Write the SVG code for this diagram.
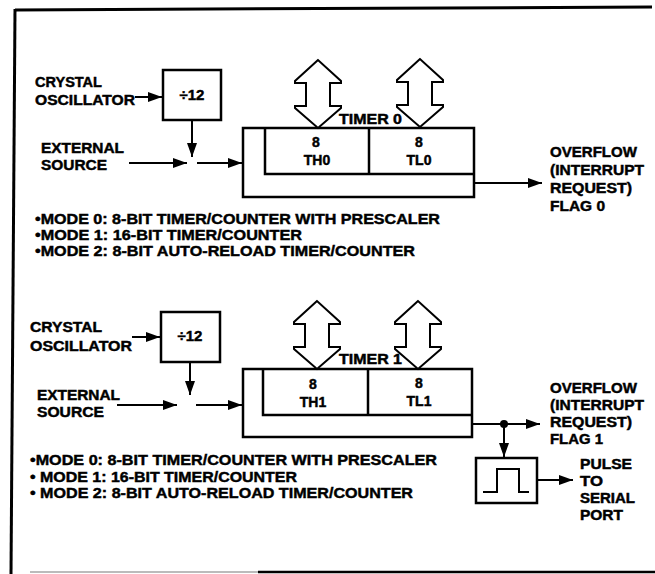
<svg xmlns="http://www.w3.org/2000/svg" width="655" height="574" viewBox="0 0 655 574">
<style>
text{font-family:"Liberation Sans",Arial,sans-serif;font-weight:bold;font-size:14px;fill:#000;stroke:#000;stroke-width:0.45}
.m{font-size:15px}
.c{text-anchor:middle}
.box{fill:none;stroke:#000;stroke-width:2.5}
.ln{fill:none;stroke:#000;stroke-width:2}
.dbl{fill:#fff;stroke:#000;stroke-width:2;stroke-linejoin:miter}
</style>
<defs>
<marker id="ah" markerUnits="userSpaceOnUse" markerWidth="15" markerHeight="11" refX="14" refY="5" orient="auto">
<path d="M0,0 L14,5 L0,10 z" fill="#000"/>
</marker>
<path id="dbl" class="dbl" d="M0,0 L-23,21 L-23,23 L-12,23 L-12,46 L-23,46 L-23,48 L0,68 L23,48 L23,46 L12,46 L12,23 L23,23 L23,21 Z"/>
</defs>
<g id="frame">
<line x1="15" y1="10" x2="652" y2="7" stroke="#000" stroke-width="3"/>
<line x1="15" y1="9" x2="11" y2="574" stroke="#000" stroke-width="3"/>
<line x1="30" y1="572" x2="258" y2="572" stroke="#bbb" stroke-width="2"/>
<line x1="258" y1="572" x2="655" y2="572" stroke="#000" stroke-width="2.5"/>
</g>
<g id="top-labels">
<text x="35" y="87" textLength="67" lengthAdjust="spacingAndGlyphs">CRYSTAL</text>
<text x="35" y="105" textLength="100" lengthAdjust="spacingAndGlyphs">OSCILLATOR</text>
<text x="41" y="153" textLength="83" lengthAdjust="spacingAndGlyphs">EXTERNAL</text>
<text x="41" y="170" textLength="66" lengthAdjust="spacingAndGlyphs">SOURCE</text>
</g>
<g id="div12-0">
<rect class="box" x="163" y="70" width="58" height="50"/>
<text class="c" x="192" y="100" style="font-size:15px">÷12</text>
</g>
<g id="timer0">
<path class="box" d="M243,128 H474 V197 H243 Z"/>
<path class="box" d="M265,128 V174 H474"/>
<line class="box" x1="369" y1="128" x2="369" y2="174"/>
<text class="c" x="316" y="147">8</text>
<text class="c" x="317" y="165">TH0</text>
<text class="c" x="419" y="147">8</text>
<text class="c" x="419" y="165">TL0</text>
<use href="#dbl" x="318" y="60"/>
<use href="#dbl" x="420" y="59"/>
<text x="339" y="124" textLength="63" lengthAdjust="spacingAndGlyphs">TIMER 0</text>
</g>
<g id="overflow0">
<text x="550" y="157" textLength="87" lengthAdjust="spacingAndGlyphs">OVERFLOW</text>
<text x="550" y="175" textLength="94" lengthAdjust="spacingAndGlyphs">(INTERRUPT</text>
<text x="550" y="193" textLength="82" lengthAdjust="spacingAndGlyphs">REQUEST)</text>
<text x="550" y="211" textLength="55" lengthAdjust="spacingAndGlyphs">FLAG 0</text>
</g>
<g id="modes0">
<text class="m" x="35" y="224" textLength="405" lengthAdjust="spacingAndGlyphs">•MODE 0: 8-BIT TIMER/COUNTER WITH PRESCALER</text>
<text class="m" x="35" y="240" textLength="267" lengthAdjust="spacingAndGlyphs">•MODE 1: 16-BIT TIMER/COUNTER</text>
<text class="m" x="35" y="256" textLength="380" lengthAdjust="spacingAndGlyphs">•MODE 2: 8-BIT AUTO-RELOAD TIMER/COUNTER</text>
</g>
<g id="bottom-labels">
<text x="30" y="332" textLength="72" lengthAdjust="spacingAndGlyphs">CRYSTAL</text>
<text x="30" y="351" textLength="102" lengthAdjust="spacingAndGlyphs">OSCILLATOR</text>
<text x="37" y="400" textLength="83" lengthAdjust="spacingAndGlyphs">EXTERNAL</text>
<text x="37" y="417" textLength="67" lengthAdjust="spacingAndGlyphs">SOURCE</text>
</g>
<g id="div12-1">
<rect class="box" x="161" y="312" width="59" height="50"/>
<text class="c" x="190" y="341" style="font-size:15px">÷12</text>
</g>
<g id="timer1">
<path class="box" d="M243,369 H472 V437 H243 Z"/>
<path class="box" d="M263,369 V415 H472"/>
<line class="box" x1="368" y1="369" x2="368" y2="415"/>
<text class="c" x="313" y="389">8</text>
<text class="c" x="313" y="407">TH1</text>
<text class="c" x="419" y="388">8</text>
<text class="c" x="419" y="406">TL1</text>
<use href="#dbl" x="317" y="301"/>
<use href="#dbl" x="418" y="301"/>
<text x="339" y="364" textLength="63" lengthAdjust="spacingAndGlyphs">TIMER 1</text>
</g>
<g id="overflow1">
<text x="550" y="393" textLength="87" lengthAdjust="spacingAndGlyphs">OVERFLOW</text>
<text x="550" y="410" textLength="94" lengthAdjust="spacingAndGlyphs">(INTERRUPT</text>
<text x="550" y="427" textLength="82" lengthAdjust="spacingAndGlyphs">REQUEST)</text>
<text x="550" y="444" textLength="53" lengthAdjust="spacingAndGlyphs">FLAG 1</text>
</g>
<g id="pulse">
<rect class="box" x="476" y="458" width="61" height="45"/>
<path class="ln" d="M483,492 H497 V469 H519 V492 H529"/>
</g>
<g id="pulse-label">
<text x="580" y="469" textLength="52" lengthAdjust="spacingAndGlyphs">PULSE</text>
<text x="580" y="486" textLength="23" lengthAdjust="spacingAndGlyphs">TO</text>
<text x="580" y="503" textLength="55" lengthAdjust="spacingAndGlyphs">SERIAL</text>
<text x="580" y="520" textLength="43" lengthAdjust="spacingAndGlyphs">PORT</text>
</g>
<g id="modes1">
<text class="m" x="30" y="465" textLength="407" lengthAdjust="spacingAndGlyphs">•MODE 0: 8-BIT TIMER/COUNTER WITH PRESCALER</text>
<text class="m" x="30" y="482" textLength="267" lengthAdjust="spacingAndGlyphs">• MODE 1: 16-BIT TIMER/COUNTER</text>
<text class="m" x="30" y="498" textLength="383" lengthAdjust="spacingAndGlyphs">• MODE 2: 8-BIT AUTO-RELOAD TIMER/COUNTER</text>
</g>
<g id="connectors">
<line class="ln" x1="135" y1="97" x2="162" y2="97" marker-end="url(#ah)"/>
<line class="ln" x1="192" y1="120" x2="192" y2="157" marker-end="url(#ah)"/>
<line class="ln" x1="129" y1="163" x2="187" y2="163" marker-end="url(#ah)"/>
<line class="ln" x1="197" y1="163" x2="242" y2="163" marker-end="url(#ah)"/>
<line class="ln" x1="474" y1="183" x2="542" y2="183" marker-end="url(#ah)"/>
<line class="ln" x1="132" y1="337" x2="160" y2="337" marker-end="url(#ah)"/>
<line class="ln" x1="190" y1="362" x2="190" y2="395" marker-end="url(#ah)"/>
<line class="ln" x1="117" y1="405" x2="177" y2="405" marker-end="url(#ah)"/>
<line class="ln" x1="196" y1="405" x2="242" y2="405" marker-end="url(#ah)"/>
<line class="ln" x1="472" y1="424" x2="540" y2="424" marker-end="url(#ah)"/>
<circle cx="504" cy="424" r="4" fill="#000"/>
<line class="ln" x1="504" y1="424" x2="504" y2="457" marker-end="url(#ah)"/>
<line class="ln" x1="537" y1="480" x2="573" y2="480" marker-end="url(#ah)"/>
</g>
</svg>
